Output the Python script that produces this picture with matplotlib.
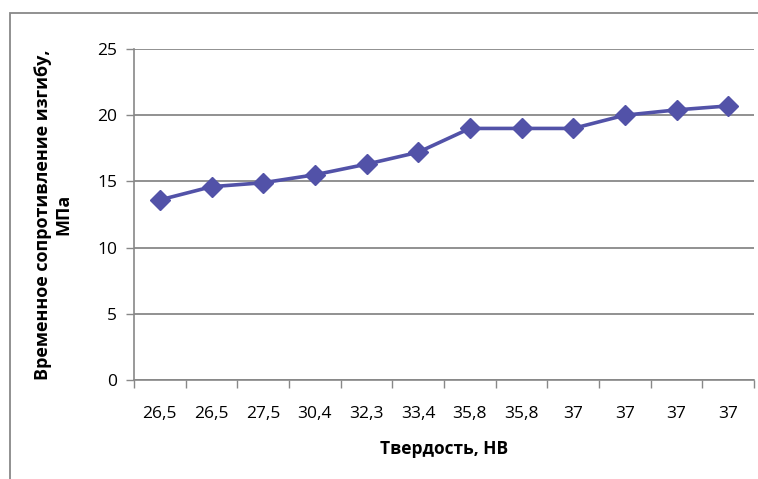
import matplotlib.pyplot as plt
from matplotlib.patches import Rectangle

hardness = ["26,5", "26,5", "27,5", "30,4", "32,3", "33,4", "35,8", "35,8", "37", "37", "37", "37"]
strength = [13.6, 14.6, 14.9, 15.5, 16.3, 17.2, 19.0, 19.0, 19.0, 20.0, 20.4, 20.7]

plt.rcParams['font.family'] = ['Open Sans', 'DejaVu Sans']
W, H = 758, 479
fig = plt.figure(figsize=(W / 100, H / 100), dpi=100)

# outer chart frame (cropped at right and bottom)
fig.patches.append(Rectangle((10 / W, -0.1), 1.1, (H - 13) / H + 0.1,
                             transform=fig.transFigure, fill=False,
                             edgecolor='#888888', lw=1.3))

ax = fig.add_axes([134 / W, 1 - 380 / H, (754 - 134) / W, (380 - 49) / H])
x = list(range(len(hardness)))
ax.plot(x, strength, color='#5252A8', lw=2.6, marker='D', ms=10,
        markeredgecolor='#5252A8', zorder=3)

ax.set_xlim(-0.5, len(hardness) - 0.5)
ax.set_ylim(0, 25)
ax.set_yticks(range(0, 26, 5))
ax.set_xticks(x)
ax.set_xticklabels(hardness)
ax.set_xticks([i - 0.5 for i in range(len(hardness) + 1)], minor=True)
ax.tick_params(axis='x', which='major', length=0, pad=19, labelsize=12.5)
ax.tick_params(axis='x', which='minor', length=6, color='#888888', width=1)
ax.tick_params(axis='y', length=6, color='#888888', width=1, pad=6, labelsize=12.5)

ax.grid(axis='y', color='#888888', lw=1.3)
for s in ['top', 'right']:
    ax.spines[s].set_visible(False)
for s in ['left', 'bottom']:
    ax.spines[s].set_color('#888888')
    ax.spines[s].set_linewidth(1.2)

ax.set_xlabel("Твердость, НВ", fontsize=12.5, fontweight='bold', labelpad=13)
ax.set_ylabel("Временное сопротивление изгибу,\nМПа", fontsize=13,
              fontweight='bold', labelpad=18, linespacing=1.15)

fig.savefig('out.png', dpi=100)
